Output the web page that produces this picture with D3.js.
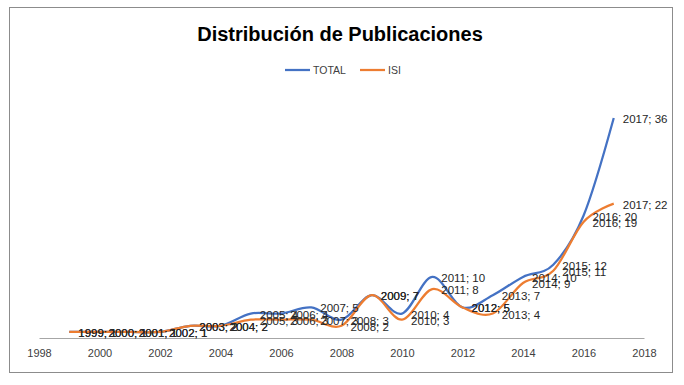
<!DOCTYPE html>
<html>
<head>
<meta charset="utf-8">
<script src="https://cdn.jsdelivr.net/npm/d3@7"></script>
<style>
  body { margin: 0; background: #fff; }
  text { font-family: "Liberation Sans", Arial, sans-serif; }
</style>
</head>
<body>
<script>
// years and series values
const years = [1999, 2000, 2001, 2002, 2003, 2004, 2005, 2006, 2007, 2008,
               2009, 2010, 2011, 2012, 2013, 2014, 2015, 2016, 2017];
const totalVals = [1, 1, 1, 1, 2, 2, 4, 4, 5, 3, 7, 4, 10, 5, 7, 10, 12, 20, 36];
const isiVals   = [1, 1, 1, 1, 2, 2, 3, 3, 3, 2, 7, 3, 8, 5, 4, 9, 11, 19, 22];
const xTicks = [1998, 2000, 2002, 2004, 2006, 2008, 2010, 2012, 2014, 2016, 2018];

const series = [
  {name: "TOTAL", color: "#4472C4", values: totalVals},
  {name: "ISI", color: "#ED7D31", values: isiVals}
];

const W = 684, H = 385;

var svg = d3.select("body")
  .append("svg")
  .attr("width", W)
  .attr("height", H);

// chart frame
svg.append("rect")
  .attr("x", 9.5).attr("y", 7.5)
  .attr("width", 663).attr("height", 365)
  .attr("fill", "#fff")
  .attr("stroke", "#8c8c8c")
  .attr("stroke-width", 1);

// title
svg.append("text")
  .attr("x", 340).attr("y", 41)
  .attr("text-anchor", "middle")
  .attr("font-size", 20)
  .attr("font-weight", "bold")
  .attr("fill", "#000")
  .text("Distribución de Publicaciones");

// legend
var legend = svg.append("g");
var legendPos = [285, 360];
series.forEach(function(s, i) {
  var lx = legendPos[i];
  legend.append("line")
    .attr("x1", lx).attr("x2", lx + 25)
    .attr("y1", 70).attr("y2", 70)
    .attr("stroke", s.color).attr("stroke-width", 2.25);
  legend.append("text")
    .attr("x", lx + 28).attr("y", 70)
    .attr("dy", "0.35em")
    .attr("font-size", 10.5)
    .attr("fill", "#404040")
    .text(s.name);
});

// scales
var x = d3.scaleLinear().domain([1998, 2018]).range([39, 644]);
var y = d3.scaleLinear().domain([0, 40]).range([338, 93.6]);

// x axis
var xAxis = svg.append("g")
  .attr("transform", "translate(0," + y(0) + ")")
  .call(d3.axisBottom(x).tickValues(xTicks).tickFormat(d3.format("d")).tickSize(0).tickPadding(11));
xAxis.select(".domain").attr("stroke", "#a6a6a6");
xAxis.selectAll("text")
  .attr("font-size", 11)
  .attr("fill", "#404040")
  .style("font-family", "Liberation Sans, Arial, sans-serif");

// smoothed lines
var line = d3.line()
  .x(function(d) { return x(d.year); })
  .y(function(d) { return y(d.value); })
  .curve(d3.curveCardinal.tension(0));

series.forEach(function(s) {
  var pts = years.map(function(yr, i) { return {year: yr, value: s.values[i]}; });
  svg.append("path")
    .datum(pts)
    .attr("d", line)
    .attr("fill", "none")
    .attr("stroke", s.color)
    .attr("stroke-width", 2.25)
    .attr("stroke-linejoin", "round");
});

// data labels, to the right of each point
series.forEach(function(s) {
  var pts = years.map(function(yr, i) { return {year: yr, value: s.values[i]}; });
  svg.append("g")
    .selectAll("text")
    .data(pts)
    .enter()
    .append("text")
      .attr("x", function(d) { return x(d.year) + 9; })
      .attr("y", function(d) { return y(d.value) + 1; })
      .attr("dy", "0.35em")
      .attr("font-size", 11.5)
      .attr("fill", "#262626")
      .text(function(d) { return d.year + "; " + d.value; });
});
</script>
</body>
</html>
